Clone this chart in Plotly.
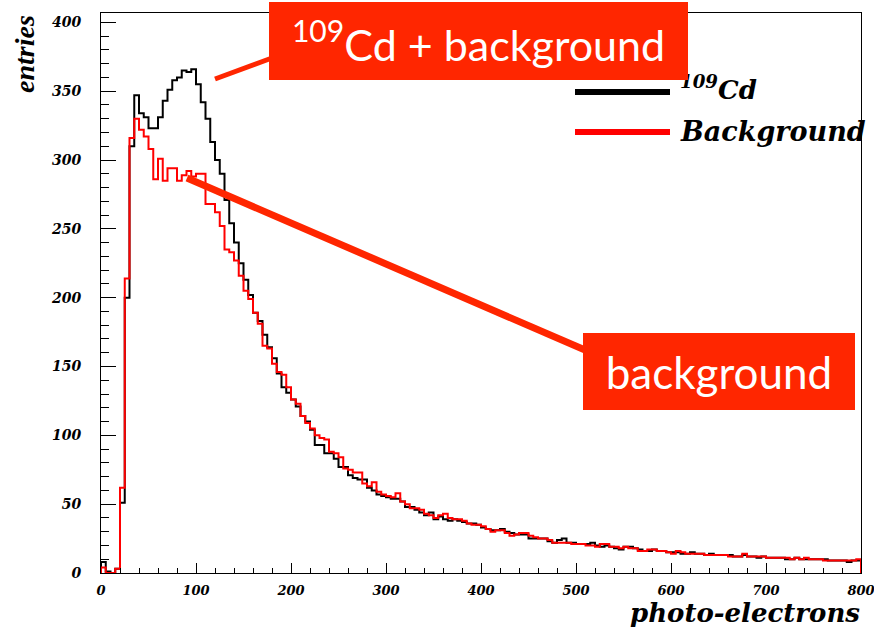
import plotly.graph_objects as go

# ---------------- data ----------------
BIN_WIDTH = 5  # photo-electrons per bin, bins from 0 to 800

cd_plus_bg = [
    8, 1, 0, 3, 51, 200, 310, 347, 334, 331,
    323, 323, 331, 343, 351, 358, 360, 365, 364, 366,
    355, 342, 330, 313, 300, 290, 271, 254, 240, 225,
    213, 202, 189, 183, 173, 164, 156, 145, 135, 131,
    126, 121, 114, 110, 104, 93, 93, 87, 87, 83,
    77, 77, 71, 69, 68, 68, 62, 60, 57, 56,
    55, 54, 54, 52, 48, 48, 46, 44, 42, 44,
    39, 41, 39, 38, 39, 38, 37, 36, 36, 35,
    33, 32, 31, 31, 32, 30, 29, 28, 28, 28,
    25, 25, 25, 25, 23, 22, 24, 25, 22, 22,
    21, 21, 21, 22, 20, 19, 20, 19, 18, 17,
    19, 19, 18, 17, 16, 16, 17, 16, 16, 15,
    15, 15, 14, 14, 15, 14, 14, 13, 14, 13,
    13, 13, 13, 12, 12, 13, 12, 12, 11, 12,
    11, 11, 11, 11, 10, 10, 11, 10, 10, 10,
    10, 10, 10, 9, 9, 9, 9, 8, 9, 9,
]

background = [
    4, 0, 0, 3, 62, 214, 316, 330, 322, 317,
    308, 286, 301, 285, 294, 294, 285, 289, 292, 288,
    290, 290, 268, 268, 262, 252, 235, 233, 227, 216,
    205, 199, 189, 181, 165, 163, 152, 146, 144, 135,
    126, 123, 114, 109, 105, 100, 98, 97, 88, 87,
    84, 76, 75, 73, 73, 65, 63, 66, 59, 57,
    56, 55, 58, 52, 50, 47, 47, 46, 43, 42,
    40, 42, 43, 40, 39, 39, 38, 36, 35, 35,
    34, 32, 30, 31, 31, 29, 27, 28, 29, 29,
    27, 26, 25, 25, 24, 22, 22, 22, 22, 21,
    21, 21, 20, 20, 19, 21, 21, 19, 19, 18,
    19, 18, 18, 16, 16, 17, 17, 16, 16, 15,
    14, 16, 15, 14, 14, 14, 14, 13, 13, 13,
    13, 13, 12, 12, 12, 14, 12, 12, 12, 12,
    11, 11, 11, 11, 11, 10, 11, 10, 11, 10,
    10, 10, 9, 9, 9, 9, 9, 9, 9, 10,
]

x_ticks = [0, 100, 200, 300, 400, 500, 600, 700, 800]
y_ticks = [0, 50, 100, 150, 200, 250, 300, 350, 400]

# ---------------- helpers ----------------
W, H = 874, 628
L, R, T, B = 101, 13, 13, 55
PW, PH = W - L - R, H - T - B


def px(p):
    return (p - L) / PW


def py(p):
    return (H - B - p) / PH


def step_xy(values):
    edges = [i * BIN_WIDTH for i in range(len(values) + 1)]
    xs = [0] + edges + [edges[-1]]
    ys = [0] + list(values) + [values[-1], 0]
    return xs, ys


ROOT_FONT = "DejaVu Serif"
ORANGE = "#FF2600"

fig = go.Figure()
for vals, col, name in [(cd_plus_bg, "black", "109Cd"), (background, "#FF0000", "Background")]:
    xs, ys = step_xy(vals)
    fig.add_trace(go.Scatter(x=xs, y=ys, mode="lines", line=dict(color=col, width=2, shape="hv"),
                             name=name, showlegend=False, hoverinfo="skip"))

ytickfont = dict(family=ROOT_FONT, size=14, color="black", weight="bold", style="italic")
xtickfont = dict(family=ROOT_FONT, size=13, color="black", weight="bold", style="italic")

fig.update_layout(
    width=W, height=H,
    margin=dict(l=L, r=R, t=T, b=B, pad=0, autoexpand=False),
    paper_bgcolor="white", plot_bgcolor="white",
    showlegend=False,
    xaxis=dict(range=[0, 800], tickvals=x_ticks, ticks="inside", ticklen=10, tickwidth=1,
               tickcolor="black", showline=True, linecolor="black", linewidth=1, mirror=True,
               showgrid=False, zeroline=False, tickfont=xtickfont, ticklabelstandoff=5,
               ticklabeloverflow="allow", automargin=False,
               minor=dict(dtick=20, ticks="inside", ticklen=5, tickcolor="black", showgrid=False)),
    yaxis=dict(range=[0, 406.8], tickvals=y_ticks, ticks="inside", ticklen=15, tickwidth=1,
               tickcolor="black", showline=True, linecolor="black", linewidth=1, mirror=True,
               showgrid=False, zeroline=False, tickfont=ytickfont, ticklabelstandoff=16,
               automargin=False,
               minor=dict(dtick=10, ticks="inside", ticklen=8, tickcolor="black", showgrid=False)),
)

annos = []
# axis titles
annos.append(dict(text="photo-electrons", xref="paper", yref="paper", x=px(862), y=py(613),
                  xanchor="right", yanchor="middle", showarrow=False,
                  font=dict(family=ROOT_FONT, size=26, color="black", weight="bold", style="italic")))
annos.append(dict(text="entries", xref="paper", yref="paper", x=px(24), y=py(13),
                  xanchor="center", yanchor="top", textangle=-90, showarrow=False,
                  font=dict(family="Liberation Serif", size=28, color="black", weight="bold", style="italic")))
# legend texts
annos.append(dict(text="<sup>109</sup>Cd", xref="paper", yref="paper", x=px(678), y=py(88),
                  xanchor="left", yanchor="middle", showarrow=False,
                  font=dict(family=ROOT_FONT, size=26, color="black", weight="bold", style="italic")))
annos.append(dict(text="Background", xref="paper", yref="paper", x=px(678), y=py(131),
                  xanchor="left", yanchor="middle", showarrow=False,
                  font=dict(family=ROOT_FONT, size=27, color="black", weight="bold", style="italic")))
# orange label boxes
annos.append(dict(text="<sup>109</sup>Cd + background", xref="paper", yref="paper",
                  x=px(269), y=py(2), xanchor="left", yanchor="top", showarrow=False,
                  width=419, height=78, bgcolor=ORANGE, borderpad=0, borderwidth=0, align="center",
                  valign="middle", font=dict(family="Lato", size=43, color="white")))
annos.append(dict(text="background", xref="paper", yref="paper",
                  x=px(583), y=py(333), xanchor="left", yanchor="top", showarrow=False,
                  width=272, height=77, bgcolor=ORANGE, borderpad=0, borderwidth=0, align="center",
                  valign="middle", font=dict(family="Lato", size=44, color="white")))
fig.update_layout(annotations=annos)

shapes = [
    # legend lines
    dict(type="line", xref="paper", yref="paper", x0=px(575), x1=px(670), y0=py(92), y1=py(92),
         line=dict(color="black", width=6)),
    dict(type="line", xref="paper", yref="paper", x0=px(575), x1=px(670), y0=py(132), y1=py(132),
         line=dict(color="#FF0000", width=6)),
    # connector lines
    dict(type="line", xref="paper", yref="paper", x0=px(215), x1=px(272), y0=py(79), y1=py(58),
         line=dict(color=ORANGE, width=5)),
    dict(type="line", xref="paper", yref="paper", x0=px(187), x1=px(585), y0=py(178), y1=py(350),
         line=dict(color=ORANGE, width=7)),
]
fig.update_layout(shapes=shapes)

fig.write_html("out.html")
